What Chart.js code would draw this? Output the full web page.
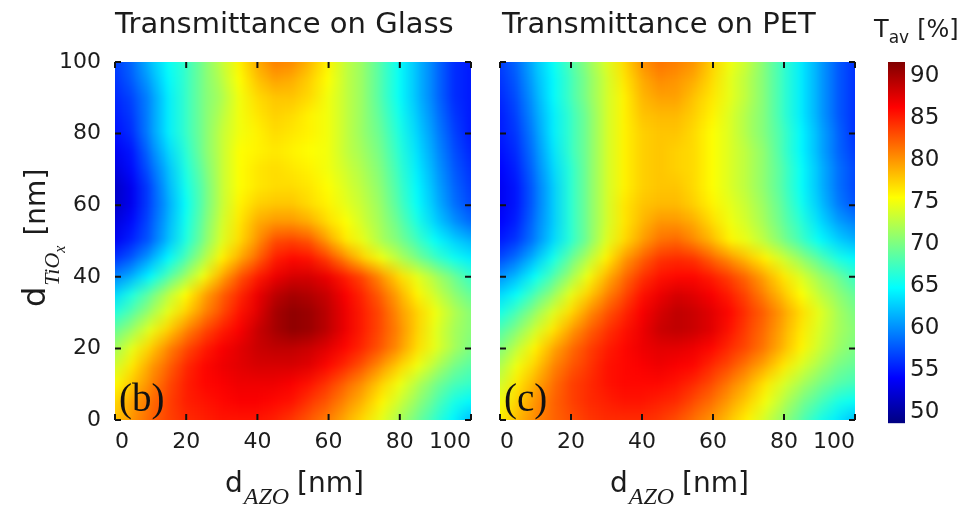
<!DOCTYPE html>
<html><head><meta charset="utf-8">
<script src="https://cdn.jsdelivr.net/npm/chart.js@4.4.1/dist/chart.umd.min.js"></script>
<style>
html,body{margin:0;padding:0;background:#fff;}
#wrap{position:relative;width:971px;height:508px;overflow:hidden;background:#fff;}
canvas{position:absolute;top:0;}
</style></head><body>
<div id="wrap">
<canvas id="cA" width="511" height="508" style="left:0px"></canvas>
<canvas id="cB" width="415" height="508" style="left:480px"></canvas>
<canvas id="cC" width="111" height="508" style="left:860px"></canvas>
</div>
<script>
// ---- data ----
const dAZO = [0,5,10,15,20,25,30,35,40,45,50,55,60,65,70,75,80,85,90,95,100];
const dTiOx = [100,95,90,85,80,75,70,65,60,55,50,45,40,35,30,25,20,15,10,5,0];
const axisTicks = [0,20,40,60,80,100];
const colorbarTicks = [50,55,60,65,70,75,80,85,90];
const colorRange = [48.6, 91.7];

// Tav on glass, rows follow dTiOx (top to bottom), columns follow dAZO
const glassTav = [
[56.5,58.5,62,65,67,70,73,76,79,81,80.5,78.5,76,73,71,68,65,62,59,56,55],
[56,58,61,64.5,67,70,72.5,75.5,78,79.5,79,77.5,75.5,73,71,68,65,62,59,56,55],
[55.5,57,60,64,67,70,72,75,77,78,78,77,75,73,71,68,65,62,59,56,55],
[55,56.5,60,64,67,70,72.5,75,76.5,77.5,77,76,75,73,71,68.5,65.5,62.5,59.5,56.5,55],
[54.5,56,60,64,67,70,73,75,76,77,76.5,76,75,73,71,69,66,63,60,57,55],
[53.5,55,59,63,66.5,70,73,75.5,76,76.5,76,75.5,75,73,71.5,69.5,66.5,63.5,60.5,57.5,55.5],
[52.5,54.5,58,62,66,69.5,73,75.5,76.5,77,76.5,76,75,73.5,72,70,67,64,61,58,56],
[51.5,53.5,57,61.5,65.5,69,73,75.5,76.5,77,77,76.5,75.5,74,72.5,70.5,67.5,64.5,61.5,58.5,56.5],
[51.5,53.5,57,61,65,69,73,76,77.5,78,78,77,76,74.5,73,71,68,65,62,59,57],
[52.5,54.5,57.5,61.5,65.5,69.5,73.5,76.5,79,80,80,79,77,75.5,73.5,71.5,69,66,63,60.5,58.5],
[53.5,55.5,58,62,66,70,74,77,80,83,83.5,82.5,79.5,76.5,74.5,72,70,67.5,65,63,61.5],
[56,58,61,64.5,68,72,76,79,82,85,86,85.5,83.5,80.5,77.5,75,72.5,70,67.5,65.5,64],
[59.5,61.5,64.5,68,71.5,75,79,82.5,85,87,88,88,87,85,83,80,77,74.5,72,69.5,67],
[63,66,69,72.5,75.5,79,82,84.5,87,89,90,89.5,88.5,86.5,84.5,82,79,76,73.5,71,69],
[66,68.5,71.5,74.5,77.5,80.5,83,85.5,87.5,90,91,90.5,89,87,85,83,80,77.5,75,72.5,70.5],
[69,71.5,74.5,77.5,80.5,83,85,86.5,88.5,90,91,90.5,89,87,85,83,80.5,77.5,74.5,72,70.5],
[71.5,74.5,77.5,80.5,83,85,86.5,87.5,88.5,89,89,88.5,87.5,86,84.5,82.5,80,77,74.5,72,70],
[73.5,76.5,79.5,82,84.5,86,87,87.5,88,88,88,87.5,86,84.5,82.5,80,77.5,75,72.5,70,68.5],
[75.5,78,80.5,83,85,86,86.5,87,87,87,86.5,85.5,84,82,80,77.5,75,72.5,70,68,67],
[77,79.5,81.5,83.5,85,85.5,86,86.5,86.5,86,85.5,84,82.5,80.5,78.5,76,73.5,71,68.5,66,64.5],
[78,80,82,83.5,84.5,85,85.5,85.5,85.5,85,84,82.5,81,79,77,74.5,72,69.5,67,64.5,62]
];

// Tav on PET
const petTav = [
[56.5,58.5,62,65,68,71,74,77,80,81.5,81,80,77.5,75,73,70,67,64,61,58,56],
[56,58,61.5,64.5,67.5,70.5,73.5,76.5,79,80.5,80,79,77,74.5,72.5,70,67,64,61,58,56],
[55.5,57.5,61,64.5,67.5,70.5,73.5,76,78.5,79.5,79.5,78,76.5,74.5,72.5,70,67,64,61,58,56],
[55,57,60.5,64,67,70,73.5,76,78,78.5,78.5,77.5,76,74,72,70,67,64,61,58,56],
[55,56.5,60,64,67,70,73.5,76,77.5,78,78,77,75.5,74,72,70,67.5,64.5,61.5,58.5,56],
[54.5,56,59.5,63.5,67,70,73.5,76,77.5,78,77.5,77,75.5,74,72.5,70.5,67.5,64.5,61.5,58.5,56.5],
[54,55.5,59,63,66.5,70,73.5,76,77.5,78,77.5,77,75.5,74,72.5,70.5,68,65,62,59,57],
[53.5,55,58.5,62.5,66.5,70,73.5,76,77.5,78,78,77,75.5,74,72.5,70.5,68,65,62,59,57],
[53.5,55,58.5,62.5,66.5,70,73.5,76.5,78,78.5,78.5,77.5,76,74.5,73,71,68.5,65.5,62.5,59.5,57.5],
[54,55.5,59,62.5,66.5,70,73.5,76.5,78.5,80,80,79,77,75,73.5,71.5,69,66.5,63.5,61,59.5],
[55,56.5,59.5,63,66.5,70,74,77,79.5,81.5,82,80.5,78.5,76,74.5,72.5,70,67.5,65,63,61.5],
[57,59,62,65.5,69,72.5,76,79.5,82,84,84.5,84,82,80,78,76,73.5,71,68.5,66,64.5],
[60,62,65,68,71.5,75,78.5,81.5,84,85.5,86,86,85,83.5,81.5,79,76.5,74,71.5,69.5,67],
[63,65,68,71,74.5,77.5,80.5,83,85.5,87,88,87.5,86.5,85,83,80.5,78,75.5,73,71,69],
[65.5,68,71,74,77,80,82.5,84.5,86.5,88,89,88.5,87.5,86,84,82,79.5,77,74.5,72,70],
[68,70.5,73.5,76.5,79.5,82,84,85.5,87,88.5,89,88.5,87.5,85.5,83.5,81.5,79,76.5,74,72,70.5],
[70,73,76,79,81.5,83.5,85,86,87,87.5,87.5,87,86,84.5,83,81,78.5,76,73.5,71.5,70],
[72,75,77.5,80.5,82.5,84,85.5,86,86.5,87,86.5,86,84.5,83,81,79,76.5,74,72,70,69],
[73.5,76.5,79,81.5,83.5,84.5,85.5,86,86,86,85.5,84.5,83,81,79,76.5,74,72,70,68.5,67.5],
[75,77.5,80,82,83.5,84.5,85,85.5,85.5,85,84.5,83,81.5,79.5,77.5,75,72.5,70,68,66,65],
[76,78.5,80.5,82,83,84,84.5,84.5,84.5,84,83,81.5,80,78,76,73.5,71,68.5,66,64,62]
];

// ---- helpers ----
const FONT = "'DejaVu Sans', sans-serif";
const SERIF = "'Liberation Serif', 'DejaVu Serif', serif";
const INK = '#1c1c1c';

function jetRGB(t){
  t = Math.min(1, Math.max(0, t));
  const c = k => Math.round(255*Math.min(1, Math.max(0, 1.5 - Math.abs(4*t - k))));
  return 'rgb(' + c(3) + ',' + c(2) + ',' + c(1) + ')';
}
function jet(v){ return jetRGB((v - colorRange[0])/(colorRange[1] - colorRange[0])); }

function cells(grid){
  const pts = [];
  dTiOx.forEach((y,i) => dAZO.forEach((x,j) => pts.push({x:x, y:y, v:grid[i][j]})));
  return pts;
}

function blurPass(d, w, h, r, horiz){
  const out = new Uint8ClampedArray(d.length);
  const win = 2*r + 1;
  const n = horiz ? w : h, m = horiz ? h : w;
  for (let a = 0; a < m; a++){
    const idx = k => horiz ? (a*w + k)*4 : (k*w + a)*4;
    for (let ch = 0; ch < 4; ch++){
      let sum = 0;
      for (let k = -r; k <= r; k++){ sum += d[idx(Math.min(n-1, Math.max(0, k)))+ch]; }
      for (let k = 0; k < n; k++){
        out[idx(k)+ch] = sum/win;
        const kin = Math.min(n-1, k + r + 1), kout = Math.max(0, k - r);
        sum += d[idx(kin)+ch] - d[idx(kout)+ch];
      }
    }
  }
  d.set(out);
}

const smoothCells = {
  id: 'smoothCells',
  afterDatasetsDraw(chart){
    const a = chart.chartArea, ctx = chart.ctx;
    const x0 = Math.round(a.left), y0 = Math.round(a.top);
    const w = Math.round(a.right) - x0, h = Math.round(a.bottom) - y0;
    const img = ctx.getImageData(x0, y0, w, h);
    const xs = chart.scales.x, ys = chart.scales.y;
    const step = dAZO[1] - dAZO[0];
    const cw = Math.abs(xs.getPixelForValue(step) - xs.getPixelForValue(0));
    const chh = Math.abs(ys.getPixelForValue(step) - ys.getPixelForValue(0));
    const rx = Math.round(cw/2), ry = Math.round(chh/2);
    blurPass(img.data, w, h, rx, true);
    blurPass(img.data, w, h, ry, false);
    blurPass(img.data, w, h, 3, true);
    blurPass(img.data, w, h, 3, false);
    ctx.putImageData(img, x0, y0);
  }
};

const frameTicks = {
  id: 'frameTicks',
  afterDraw(chart){
    const a = chart.chartArea, ctx = chart.ctx, xs = chart.scales.x, ys = chart.scales.y;
    const L = 6;
    ctx.save();
    ctx.strokeStyle = '#111'; ctx.lineWidth = 2;
    ctx.beginPath();
    axisTicks.forEach(v => {
      const px = xs.getPixelForValue(v);
      ctx.moveTo(px, a.bottom); ctx.lineTo(px, a.bottom - L);
      ctx.moveTo(px, a.top); ctx.lineTo(px, a.top + L);
      const py = ys.getPixelForValue(v);
      ctx.moveTo(a.left, py); ctx.lineTo(a.left + L, py);
      ctx.moveTo(a.right, py); ctx.lineTo(a.right - L, py);
    });
    ctx.stroke();
    ctx.restore();
  }
};

function drawParts(ctx, parts, x, y){
  ctx.save();
  ctx.fillStyle = INK; ctx.textAlign = 'left'; ctx.textBaseline = 'alphabetic';
  let cx = x;
  parts.forEach(p => {
    ctx.font = p.font;
    ctx.fillText(p.t, cx, y + (p.dy || 0));
    cx += ctx.measureText(p.t).width + (p.gap || 0);
  });
  ctx.restore();
}

function panelText(title, tag, withYTitle, titleShift){
  return {
    id: 'panelText',
    afterDraw(chart){
      const a = chart.chartArea, ctx = chart.ctx;
      drawParts(ctx, [{t: title, font: '29px ' + FONT}], a.left + titleShift, 33);
      drawParts(ctx, [
        {t: 'd', font: '28px ' + FONT, gap: 1},
        {t: 'AZO', font: 'italic 24px ' + SERIF, dy: 12, gap: 8},
        {t: '[nm]', font: '28px ' + FONT}
      ], a.left + 110, 492);
      ctx.save();
      ctx.font = '39px ' + SERIF; ctx.fillStyle = '#111'; ctx.textBaseline = 'alphabetic';
      ctx.fillText(tag, a.left + 4, 411);
      ctx.restore();
      if (withYTitle){
        ctx.save();
        ctx.translate(45, 307);
        ctx.rotate(-Math.PI/2);
        drawParts(ctx, [
          {t: 'd', font: '32px ' + FONT, gap: 1},
          {t: 'TiO', font: 'italic 22px ' + SERIF, dy: 14},
          {t: 'x', font: 'italic 16px ' + SERIF, dy: 20, gap: 10},
          {t: '[nm]', font: '28px ' + FONT}
        ], 0, 0);
        ctx.restore();
      }
    }
  };
}

function heatConfig(grid, showY, pad, title, tag, titleShift){
  const step = dAZO[1] - dAZO[0];
  return {
    type: 'scatter',
    data: { datasets: [{
      data: cells(grid),
      pointStyle: 'rect',
      pointBorderWidth: 0,
      pointRadius: c => {
        const ch = c.chart, xs = ch.scales.x, ys = ch.scales.y;
        const w = Math.abs(xs.getPixelForValue(step) - xs.getPixelForValue(0));
        const h = Math.abs(ys.getPixelForValue(step) - ys.getPixelForValue(0));
        return (Math.max(w, h) + 1)/Math.SQRT2;
      },
      pointBackgroundColor: c => jet(c.raw.v),
      clip: 0
    }]},
    options: {
      responsive: false, animation: false, events: [],
      layout: { padding: pad },
      plugins: { legend: {display: false}, tooltip: {enabled: false} },
      scales: {
        x: {
          type: 'linear', position: 'bottom', min: 0, max: 100,
          afterBuildTicks: s => { s.ticks = axisTicks.map(v => ({value: v})); },
          afterFit: s => { s.height = 88; },
          grid: {display: false, drawTicks: false}, border: {display: false},
          ticks: {font: {family: FONT, size: 22}, color: INK, padding: 9, maxRotation: 0, autoSkip: false, align: 'inner'}
        },
        y: {
          type: 'linear', position: 'left', min: 0, max: 100, display: showY,
          afterBuildTicks: s => { s.ticks = axisTicks.map(v => ({value: v})); },
          afterFit: s => { s.width = showY ? 115 : 0; },
          grid: {display: false, drawTicks: false}, border: {display: false},
          ticks: {font: {family: FONT, size: 22}, color: INK, padding: 14, autoSkip: false}
        }
      }
    },
    plugins: [smoothCells, frameTicks, panelText(title, tag, showY, titleShift)]
  };
}

new Chart(document.getElementById('cA'), heatConfig(glassTav, true, {top: 62, right: 40, left: 0, bottom: 0}, 'Transmittance on Glass', '(b)', 0));
new Chart(document.getElementById('cB'), heatConfig(petTav, false, {top: 62, right: 40, left: 20, bottom: 0}, 'Transmittance on PET', '(c)', 2));

// ---- colour bar ----
const barTitle = {
  id: 'barTitle',
  afterDraw(chart){
    drawParts(chart.ctx, [
      {t: 'T', font: '24px ' + FONT},
      {t: 'av', font: '17px ' + FONT, dy: 6, gap: 8},
      {t: '[%]', font: '24px ' + FONT}
    ], 14, 37);
  }
};
new Chart(document.getElementById('cC'), {
  type: 'bar',
  data: { labels: ['Tav'], datasets: [{
    data: [colorRange],
    borderWidth: 0,
    barPercentage: 1, categoryPercentage: 1,
    backgroundColor: c => {
      const a = c.chart.chartArea;
      if (!a) return jetRGB(0.5);
      const g = c.chart.ctx.createLinearGradient(0, a.bottom, 0, a.top);
      [0, 0.125, 0.375, 0.625, 0.875, 1].forEach(t => g.addColorStop(t, jetRGB(t)));
      return g;
    }
  }]},
  options: {
    responsive: false, animation: false, events: [],
    layout: { padding: {left: 28, top: 62, bottom: 84.7, right: 0} },
    plugins: { legend: {display: false}, tooltip: {enabled: false} },
    scales: {
      x: { display: false },
      y: {
        position: 'right', min: colorRange[0], max: colorRange[1],
        afterBuildTicks: s => { s.ticks = colorbarTicks.map(v => ({value: v})); },
        afterFit: s => { s.width = 66; },
        grid: {display: false, drawTicks: false}, border: {display: false},
        ticks: {font: {family: FONT, size: 23}, color: INK, padding: 5, autoSkip: false}
      }
    }
  },
  plugins: [barTitle]
});
</script>
</body></html>
